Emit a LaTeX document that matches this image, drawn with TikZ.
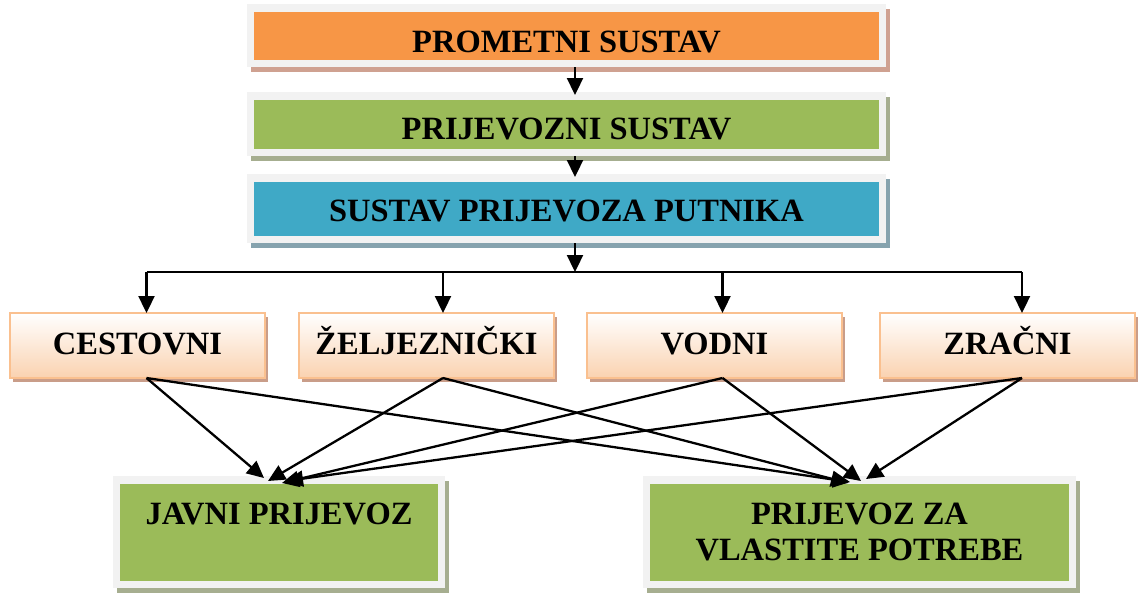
\documentclass[tikz,border=0pt]{standalone}
\usepackage{fontspec}
\setmainfont{Liberation Serif}
\usetikzlibrary{arrows.meta,shadows}
\definecolor{cOrange}{HTML}{F79646}
\definecolor{cGreen}{HTML}{9BBB59}
\definecolor{cBlue}{HTML}{3FA9C6}
\definecolor{cFrame}{HTML}{F2F2F2}
\definecolor{cShO}{HTML}{CFA191}
\definecolor{cShG}{HTML}{A6AE90}
\definecolor{cShB}{HTML}{86A3AE}
\definecolor{cPeach}{HTML}{FAD2B0}
\definecolor{cPeachB}{HTML}{FAC08F}
\definecolor{cShP}{HTML}{C99D89}
\tikzset{
  every node/.style={font=\fontsize{32.5}{36}\selectfont\bfseries, inner sep=0pt, outer sep=0pt},
  framed/.style 2 args={fill=cFrame,
    general shadow={fill=#2, shadow xshift=3.5pt, shadow yshift=-5pt},
    path picture={\fill[#1] ([shift={(7pt,-7.5pt)}]path picture bounding box.north west)
      rectangle ([shift={(-7pt,7pt)}]path picture bounding box.south east);}},
  topbox/.style={minimum width=639pt},
  peachbox/.style={draw=cPeachB, line width=2pt, top color=white, middle color=cPeach!55, bottom color=cPeach,
    general shadow={fill=cShP, shadow xshift=3pt, shadow yshift=-4pt},
    minimum width=255pt, minimum height=65pt, text height=17pt, text depth=0pt},
  arr/.style={line width=2.3pt, -{Triangle[length=17pt,width=16pt]}},
  ln/.style={line width=2.3pt},
}
\begin{document}
\begin{tikzpicture}[x=1pt,y=-1pt]
\path[use as bounding box] (0,0) rectangle (1138,592);
% top chain
\node[framed={cOrange}{cShO}, topbox, minimum height=63pt, text height=34pt, text depth=0pt] (ps) at (566.5,35.5) {PROMETNI SUSTAV};
\node[framed={cGreen}{cShG}, topbox, minimum height=64pt, text height=31pt, text depth=0pt] (pr) at (566.5,124) {PRIJEVOZNI SUSTAV};
\node[framed={cBlue}{cShB}, topbox, minimum height=69pt, text height=26pt, text depth=0pt] (sp) at (566.5,208.5) {SUSTAV PRIJEVOZA PUTNIKA};
% bus coordinates
\coordinate (top) at (575,0);
\coordinate (b0) at (575,272);
\coordinate (b1) at (146.5,272);
\coordinate (b2) at (443,272);
\coordinate (b3) at (722.5,272);
\coordinate (b4) at (1022,272);
% modes
\node[peachbox] (ce) at (137.5,345.5) {CESTOVNI};
\node[peachbox] (ze) at (426.5,345.5) {ŽELJEZNIČKI};
\node[peachbox] (vo) at (714.5,345.5) {VODNI};
\node[peachbox] (zr) at (1007.5,345.5) {ZRAČNI};
% bottom
\node[framed={cGreen}{cShG}, minimum width=332pt, minimum height=112pt, text height=21pt, text depth=37pt] (jp) at (279,532) {JAVNI PRIJEVOZ};
\node[framed={cGreen}{cShG}, minimum width=433pt, minimum height=112pt, align=center] (vp) at (859.5,532) {PRIJEVOZ ZA\\VLASTITE POTREBE};
% target points
\coordinate (j1) at (264,478);
\coordinate (j2) at (268,481);
\coordinate (j3) at (282,483);
\coordinate (j4) at (286,481);
\coordinate (p1) at (850,482);
\coordinate (p2) at (848,483);
\coordinate (p3) at (861,481);
\coordinate (p4) at (866,479);
% connectors
\draw[arr, shorten >=-3pt] (ps.south -| top) -- (pr.north -| top);
\draw[arr, shorten >=-3pt] (pr.south -| top) -- (sp.north -| top);
\draw[arr] (sp.south -| top) -- (b0);
\draw[ln] (b1) -- (b4);
\draw[arr] (b1) -- (ce.north -| b1);
\draw[arr] (b2) -- (ze.north -| b2);
\draw[arr] (b3) -- (vo.north -| b3);
\draw[arr] (b4) -- (zr.north -| b4);
\draw[arr] (ce.south -| b1) -- (j1);
\draw[arr] (ce.south -| b1) -- (p1);
\draw[arr] (ze.south -| b2) -- (j2);
\draw[arr] (ze.south -| b2) -- (p2);
\draw[arr] (vo.south -| b3) -- (j3);
\draw[arr] (vo.south -| b3) -- (p3);
\draw[arr] (zr.south -| b4) -- (j4);
\draw[arr] (zr.south -| b4) -- (p4);
\end{tikzpicture}
\end{document}
